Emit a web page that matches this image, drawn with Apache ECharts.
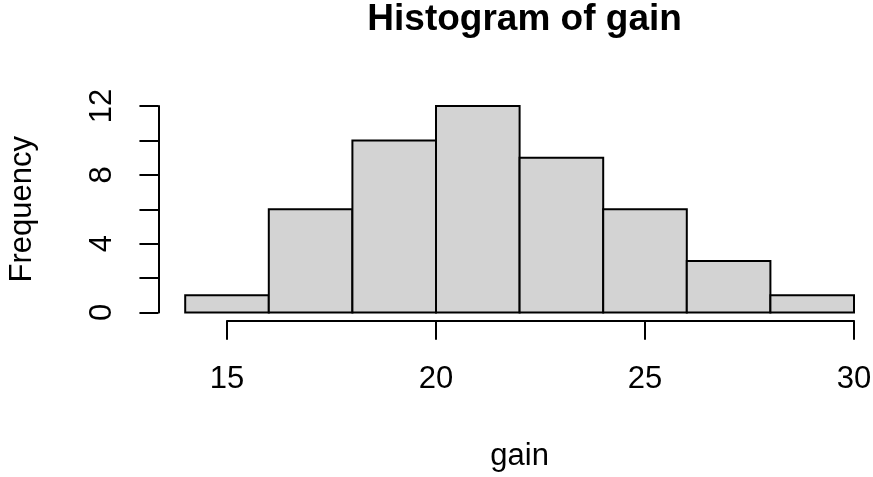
<!DOCTYPE html>
<html>
<head>
<meta charset="utf-8">
<script src="https://cdn.jsdelivr.net/npm/echarts@6/dist/echarts.min.js"></script>
<style>
html,body{margin:0;padding:0;background:#fff;}
#c{width:873px;height:477px;}
</style>
</head>
<body>
<div id="c"></div>
<script>
// ---- data ----
const breaks = [14, 16, 18, 20, 22, 24, 26, 28, 30];
const counts = [1, 6, 10, 12, 9, 6, 3, 1];
const xTicks = [15, 20, 25, 30];
const yTicks = [0, 2, 4, 6, 8, 10, 12];
const yTickLabels = [0, 4, 8, 12];
const titleText = 'Histogram of gain';
const xLabel = 'gain';
const yLabel = 'Frequency';

// ---- layout ----
const FONT = 'Liberation Sans, Arial, Helvetica, sans-serif';
const FS = 31;
const xMin = breaks[0], xMax = breaks[breaks.length - 1];
const yMin = yTicks[0], yMax = yTicks[yTicks.length - 1];
const plotLeft = 185.2, plotRight = 854, plotTop = 106, plotBottom = 312.5;
const pxPerX = (plotRight - plotLeft) / (xMax - xMin);
const pxPerY = (plotBottom - plotTop) / (yMax - yMin);
const ext = 0.04;
const xAxisY = plotBottom + (yMax - yMin) * ext * pxPerY;
const yAxisX = plotLeft - (xMax - xMin) * ext * pxPerX;
const xAxisLeft = plotLeft + (xTicks[0] - xMin) * pxPerX;
const xAxisRight = plotLeft + (xTicks[xTicks.length - 1] - xMin) * pxPerX;

const binData = counts.map((c, i) => [breaks[i], breaks[i + 1], c]);

const chart = echarts.init(document.getElementById('c'), null, {renderer: 'canvas'});
const axisLineStyle = {color: '#000', width: 2};
chart.setOption({
  backgroundColor: '#fff',
  animation: false,
  title: {
    text: titleText,
    left: (yAxisX + (plotRight + (xMax - xMin) * ext * pxPerX)) / 2,
    top: -4,
    textAlign: 'center',
    textStyle: {fontFamily: FONT, fontSize: 37, fontWeight: 'bold', color: '#000'}
  },
  grid: [
    {left: plotLeft, top: plotTop, width: plotRight - plotLeft, height: plotBottom - plotTop, outerBoundsMode: 'none', containLabel: false},
    {left: xAxisLeft, top: plotTop, width: xAxisRight - xAxisLeft, height: xAxisY - plotTop, outerBoundsMode: 'none', containLabel: false},
    {left: yAxisX, top: plotTop, width: plotRight - yAxisX, height: plotBottom - plotTop, outerBoundsMode: 'none', containLabel: false}
  ],
  xAxis: [
    {gridIndex: 0, type: 'value', min: xMin, max: xMax,
     axisLine: {show: false}, axisTick: {show: false}, axisLabel: {show: false}, splitLine: {show: false},
     name: xLabel, nameLocation: 'middle', nameGap: 128,
     nameTextStyle: {fontFamily: FONT, fontSize: FS, color: '#000'}},
    {gridIndex: 1, type: 'value', min: xTicks[0], max: xTicks[xTicks.length - 1], interval: xTicks[1] - xTicks[0],
     axisLine: {show: true, lineStyle: axisLineStyle},
     axisTick: {show: true, length: 19, lineStyle: axisLineStyle},
     axisLabel: {show: true, margin: 43, fontFamily: FONT, fontSize: FS, color: '#000',
       formatter: v => xTicks.includes(v) ? String(v) : ''},
     splitLine: {show: false}},
    {gridIndex: 2, type: 'value', min: 0, max: 1, show: false}
  ],
  yAxis: [
    {gridIndex: 0, type: 'value', min: yMin, max: yMax, show: false},
    {gridIndex: 1, type: 'value', min: yMin, max: yMax, show: false},
    {gridIndex: 2, type: 'value', min: yMin, max: yMax, interval: yTicks[1] - yTicks[0],
     axisLine: {show: true, lineStyle: axisLineStyle},
     axisTick: {show: true, length: 19, lineStyle: axisLineStyle},
     axisLabel: {show: true, rotate: 90, margin: 40, fontFamily: FONT, fontSize: FS, color: '#000',
       formatter: v => yTickLabels.includes(v) ? String(v) : ''},
     splitLine: {show: false},
     name: yLabel, nameLocation: 'middle', nameRotate: 90, nameGap: 120,
     nameTextStyle: {fontFamily: FONT, fontSize: FS, color: '#000'}}
  ],
  series: [{
    type: 'custom',
    xAxisIndex: 0, yAxisIndex: 0,
    data: binData,
    encode: {x: [0, 1], y: 2},
    clip: false,
    renderItem: function (params, api) {
      const p0 = api.coord([api.value(0), api.value(2)]);
      const p1 = api.coord([api.value(1), 0]);
      return {
        type: 'rect',
        shape: {x: p0[0], y: p0[1], width: p1[0] - p0[0], height: p1[1] - p0[1]},
        style: {fill: '#D3D3D3', stroke: '#000', lineWidth: 2}
      };
    }
  }]
});
</script>
</body>
</html>
